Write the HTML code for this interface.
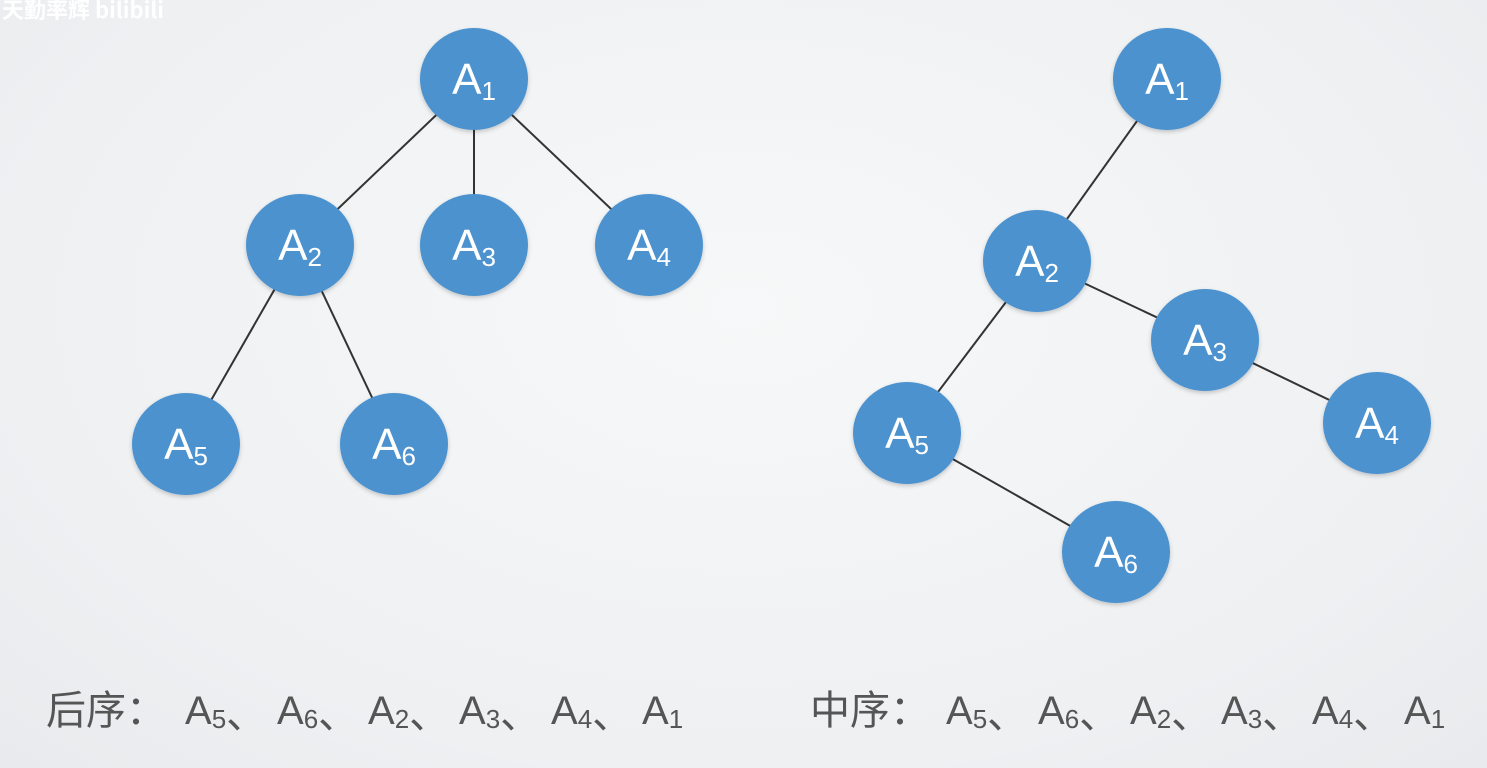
<!DOCTYPE html>
<html><head><meta charset="utf-8"><style>
html,body{margin:0;padding:0;}
body{width:1487px;height:768px;overflow:hidden;background:radial-gradient(ellipse at 50% 40%,#f7f8f9 0%,#eef0f2 70%,#e8eaed 100%);}
svg{display:block}
</style></head><body>
<svg width="1487" height="768" xmlns="http://www.w3.org/2000/svg" font-family="Liberation Sans, Noto Sans CJK SC, sans-serif">
<defs>
<filter id="sh" x="-20%" y="-20%" width="140%" height="140%"><feDropShadow dx="0" dy="2" stdDeviation="2" flood-color="#000" flood-opacity="0.2"/></filter>
</defs>
<text x="2" y="18" font-size="22" fill="#fff" font-weight="bold" font-family="Noto Sans CJK SC, sans-serif">天勤率辉 bilibili</text>
<g stroke="#333" stroke-width="2">
<line x1="474" y1="79" x2="300" y2="245"/><line x1="474" y1="79" x2="474" y2="245"/><line x1="474" y1="79" x2="649" y2="245"/>
<line x1="300" y1="245" x2="186" y2="444"/><line x1="300" y1="245" x2="394" y2="444"/>
<line x1="1167" y1="79" x2="1037" y2="261"/><line x1="1037" y1="261" x2="1205" y2="340"/><line x1="1205" y1="340" x2="1377" y2="423"/>
<line x1="1037" y1="261" x2="907" y2="433"/><line x1="907" y1="433" x2="1116" y2="552"/>
</g>
<g fill="#4b92cf" filter="url(#sh)">
<ellipse cx="474" cy="79" rx="54" ry="51"/><ellipse cx="300" cy="245" rx="54" ry="51"/><ellipse cx="474" cy="245" rx="54" ry="51"/><ellipse cx="649" cy="245" rx="54" ry="51"/><ellipse cx="186" cy="444" rx="54" ry="51"/><ellipse cx="394" cy="444" rx="54" ry="51"/>
<ellipse cx="1167" cy="79" rx="54" ry="51"/><ellipse cx="1037" cy="261" rx="54" ry="51"/><ellipse cx="1205" cy="340" rx="54" ry="51"/><ellipse cx="1377" cy="423" rx="54" ry="51"/><ellipse cx="907" cy="433" rx="54" ry="51"/><ellipse cx="1116" cy="552" rx="54" ry="51"/>
</g>
<g fill="#fff" font-size="44" text-anchor="middle">
<text x="474" y="94">A<tspan font-size="26" dy="6">1</tspan></text>
<text x="300" y="260">A<tspan font-size="26" dy="6">2</tspan></text>
<text x="474" y="260">A<tspan font-size="26" dy="6">3</tspan></text>
<text x="649" y="260">A<tspan font-size="26" dy="6">4</tspan></text>
<text x="186" y="459">A<tspan font-size="26" dy="6">5</tspan></text>
<text x="394" y="459">A<tspan font-size="26" dy="6">6</tspan></text>
<text x="1167" y="94">A<tspan font-size="26" dy="6">1</tspan></text>
<text x="1037" y="276">A<tspan font-size="26" dy="6">2</tspan></text>
<text x="1205" y="355">A<tspan font-size="26" dy="6">3</tspan></text>
<text x="1377" y="438">A<tspan font-size="26" dy="6">4</tspan></text>
<text x="907" y="448">A<tspan font-size="26" dy="6">5</tspan></text>
<text x="1116" y="567">A<tspan font-size="26" dy="6">6</tspan></text>
</g>
<g fill="#555" font-size="40">
<text x="46" y="724" font-family="Noto Sans CJK SC, sans-serif">后序：</text>
<text x="185" y="724">A<tspan font-size="26" dy="4">5</tspan><tspan font-family="Noto Sans CJK SC">、</tspan></text>
<text x="277" y="724">A<tspan font-size="26" dy="4">6</tspan><tspan font-family="Noto Sans CJK SC">、</tspan></text>
<text x="368" y="724">A<tspan font-size="26" dy="4">2</tspan><tspan font-family="Noto Sans CJK SC">、</tspan></text>
<text x="459" y="724">A<tspan font-size="26" dy="4">3</tspan><tspan font-family="Noto Sans CJK SC">、</tspan></text>
<text x="551" y="724">A<tspan font-size="26" dy="4">4</tspan><tspan font-family="Noto Sans CJK SC">、</tspan></text>
<text x="642" y="724">A<tspan font-size="26" dy="4">1</tspan></text>
<text x="810" y="724" font-family="Noto Sans CJK SC, sans-serif">中序：</text>
<text x="946" y="724">A<tspan font-size="26" dy="4">5</tspan><tspan font-family="Noto Sans CJK SC">、</tspan></text>
<text x="1038" y="724">A<tspan font-size="26" dy="4">6</tspan><tspan font-family="Noto Sans CJK SC">、</tspan></text>
<text x="1130" y="724">A<tspan font-size="26" dy="4">2</tspan><tspan font-family="Noto Sans CJK SC">、</tspan></text>
<text x="1221" y="724">A<tspan font-size="26" dy="4">3</tspan><tspan font-family="Noto Sans CJK SC">、</tspan></text>
<text x="1312" y="724">A<tspan font-size="26" dy="4">4</tspan><tspan font-family="Noto Sans CJK SC">、</tspan></text>
<text x="1404" y="724">A<tspan font-size="26" dy="4">1</tspan></text>
</g>
</svg>
</body></html>
